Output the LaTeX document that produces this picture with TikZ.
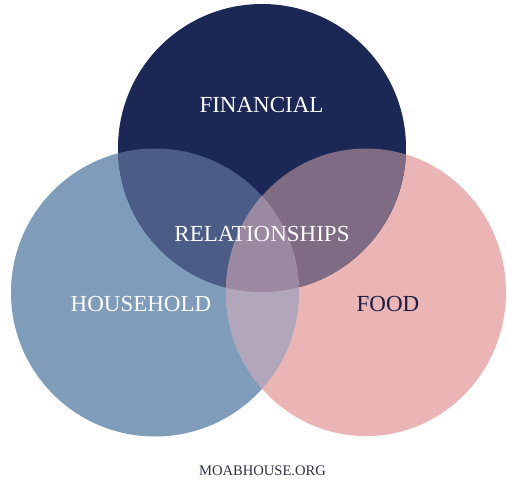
\documentclass[tikz,border=0pt]{standalone}
\usepackage{fontspec}
\setmainfont{Liberation Serif}
\definecolor{navy}{HTML}{1B2754}
\definecolor{steel}{HTML}{7F9CBB}
\definecolor{rose}{HTML}{EBB4B5}
\definecolor{tl}{HTML}{4B5C86}
\definecolor{tr}{HTML}{7F6B84}
\definecolor{lr}{HTML}{B2A7BA}
\definecolor{tlr}{HTML}{9A89A1}
\definecolor{ink}{HTML}{1B1F45}
\definecolor{foot}{HTML}{2E3249}
\tikzset{
  lbl/.style={anchor=base, inner sep=0pt, font=\fontsize{23}{26}\selectfont},
}
\begin{document}
\begin{tikzpicture}[x=1pt,y=-1pt]
\useasboundingbox (0,0) rectangle (507,482);
\fill[white] (0,0) rectangle (507,482);
\coordinate (T) at (262,148);
\coordinate (L) at (155,292.5);
\coordinate (R) at (366,292.3);
\def\circT{(T) circle (144)}
\def\circL{(L) circle (144)}
\def\circR{(R) ellipse [x radius=140, y radius=143.8]}
\fill[steel] \circL;
\fill[rose] \circR;
\fill[navy] \circT;
\begin{scope}\clip \circT; \fill[tl] \circL;\end{scope}
\begin{scope}\clip \circT; \fill[tr] \circR;\end{scope}
\begin{scope}\clip \circL; \fill[lr] \circR;\end{scope}
\begin{scope}\clip \circT; \clip \circL; \fill[tlr] \circR;\end{scope}
\node[lbl, text=white] (fin) at (261.5,112.7) {FINANCIAL};
\node[lbl, text=white] (rel) at (262,241) {RELATIONSHIPS};
\node[lbl, text=white] (hou) at (141,311) {HOUSEHOLD};
\node[lbl, text=ink] (food) at (388,311) {FOOD};
\node[anchor=base, inner sep=0pt, text=foot, font=\fontsize{14.6}{17}\selectfont] (site) at (262.5,475) {MOABHOUSE.ORG};
\end{tikzpicture}
\end{document}
